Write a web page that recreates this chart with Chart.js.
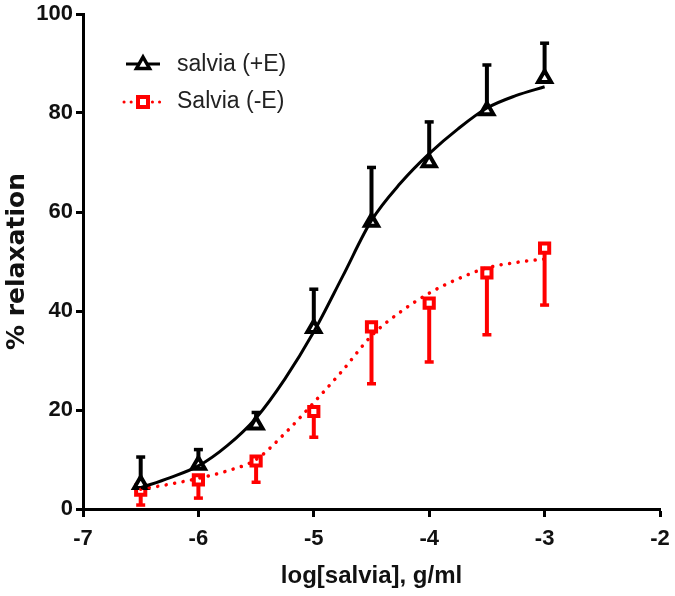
<!DOCTYPE html>
<html>
<head>
<meta charset="utf-8">
<script src="https://cdn.jsdelivr.net/npm/chart.js@4/dist/chart.umd.min.js"></script>
<style>
  html, body { margin: 0; padding: 0; background: #fff; }
  #wrap { width: 675px; height: 596px; }
</style>
</head>
<body>
<div id="wrap"><canvas id="chart"></canvas></div>
<script>
// 数据点（对数浓度）
const doses = [-6.5, -6, -5.5, -5, -4.5, -4, -3.5, -3];
const withEMean = [5, 8.9, 17, 36.5, 58, 70, 80.5, 87];
const withEErr = [5.5, 3.1, 2.5, 7.9, 11, 8.2, 9.2, 7.1];
const withoutEMean = [3.8, 5.9, 9.7, 19.7, 36.8, 41.6, 47.7, 52.7];
const withoutEErr = [3, 3.7, 4.3, 5.2, 11.5, 11.9, 12.5, 11.5];

// 拟合曲线
const fitX = [-6.5, -6.25, -6, -5.75, -5.5, -5.25, -5, -4.75, -4.5, -4.25, -4, -3.75, -3.5, -3.25, -3];
const withEFit = [4.3, 6.3, 8.7, 12.8, 18.4, 26.3, 35.8, 47, 58.3, 65.8, 71.8, 76.8, 81, 83.5, 85.3];
const withoutEFit = [4, 5, 6.2, 7.7, 10, 15.3, 21.5, 28, 35, 39.8, 43.6, 46.5, 48.7, 49.8, 50.5];

const xTicks = [-7, -6, -5, -4, -3, -2];
const yTicks = [0, 20, 40, 60, 80, 100];
const legendLabels = ['salvia (+E)', 'Salvia (-E)'];

const toPoints = (xs, ys) => xs.map((x, i) => ({ x: x, y: ys[i] }));

// 误差线插件
const errorBars = {
    id: 'errorBars',
    beforeDatasetsDraw(chart) {
        const ctx = chart.ctx;
        const xs = chart.scales.x, ys = chart.scales.y;
        const sets = [
            { mean: withEMean, err: withEErr, dir: 1, color: '#000' },
            { mean: withoutEMean, err: withoutEErr, dir: -1, color: '#ff0000' }
        ];
        ctx.save();
        sets.forEach(s => {
            ctx.strokeStyle = s.color;
            doses.forEach((d, i) => {
                const px = xs.getPixelForValue(d);
                const y0 = ys.getPixelForValue(s.mean[i]);
                const y1 = ys.getPixelForValue(s.mean[i] + s.dir * s.err[i]);
                ctx.lineWidth = 4;
                ctx.beginPath();
                ctx.moveTo(px, y0);
                ctx.lineTo(px, y1);
                ctx.stroke();
                ctx.lineWidth = 3.5;
                ctx.beginPath();
                ctx.moveTo(px - 4.5, y1);
                ctx.lineTo(px + 4.5, y1);
                ctx.stroke();
            });
        });
        ctx.restore();
    }
};

// 图例插件（图内左上）
const insideLegend = {
    id: 'insideLegend',
    afterDraw(chart) {
        const ctx = chart.ctx;
        ctx.save();
        // 黑色实线 + 三角形
        ctx.strokeStyle = '#000';
        ctx.lineWidth = 3;
        ctx.beginPath();
        ctx.moveTo(126, 64);
        ctx.lineTo(160, 64);
        ctx.stroke();
        ctx.fillStyle = '#fff';
        ctx.lineWidth = 3.5;
        ctx.beginPath();
        ctx.moveTo(143, 57);
        ctx.lineTo(149.5, 68.5);
        ctx.lineTo(136.5, 68.5);
        ctx.closePath();
        ctx.fill();
        ctx.stroke();
        // 红色点线 + 方块
        ctx.strokeStyle = '#ff0000';
        ctx.lineCap = 'round';
        ctx.setLineDash([0.1, 7]);
        ctx.lineWidth = 3;
        ctx.beginPath();
        ctx.moveTo(124, 102);
        ctx.lineTo(162, 102);
        ctx.stroke();
        ctx.setLineDash([]);
        ctx.lineCap = 'butt';
        ctx.lineWidth = 4;
        ctx.fillStyle = '#fff';
        ctx.fillRect(138, 97, 10, 10);
        ctx.strokeRect(138, 97, 10, 10);
        // 文字
        ctx.fillStyle = '#222';
        ctx.font = '23px "Liberation Sans", Arial, sans-serif';
        ctx.textBaseline = 'middle';
        ctx.fillText(legendLabels[0], 177, 65);
        ctx.fillText(legendLabels[1], 177, 102);
        ctx.restore();
    }
};

const tickFont = { family: '"Liberation Sans", Arial, sans-serif', size: 22, weight: 'bold' };

new Chart(document.getElementById('chart'), {
    type: 'scatter',
    data: {
        datasets: [
            {
                type: 'line',
                data: toPoints(fitX, withEFit),
                borderColor: '#000',
                borderWidth: 3,
                pointRadius: 0,
                cubicInterpolationMode: 'monotone',
                fill: false
            },
            {
                type: 'line',
                data: toPoints(fitX, withoutEFit),
                borderColor: '#ff0000',
                borderWidth: 3.5,
                borderDash: [0.1, 8.5],
                borderCapStyle: 'round',
                pointRadius: 0,
                cubicInterpolationMode: 'monotone',
                fill: false
            },
            {
                label: legendLabels[0],
                data: toPoints(doses, withEMean),
                pointStyle: 'triangle',
                pointRadius: 7.5,
                borderWidth: 4,
                borderColor: '#000',
                backgroundColor: '#fff'
            },
            {
                label: legendLabels[1],
                data: toPoints(doses, withoutEMean),
                pointStyle: 'rect',
                pointRadius: 6.5,
                borderWidth: 4,
                borderColor: '#ff0000',
                backgroundColor: '#fff'
            }
        ]
    },
    options: {
        responsive: true,
        maintainAspectRatio: false,
        animation: false,
        layout: { padding: { top: 14, right: 15, left: 0, bottom: 0 } },
        plugins: {
            legend: { display: false },
            tooltip: { enabled: false }
        },
        scales: {
            x: {
                type: 'linear',
                min: -7,
                max: -2,
                afterBuildTicks: (s) => { s.ticks = xTicks.map(v => ({ value: v })); },
                afterFit: (s) => { s.height = 87; s.paddingLeft = 0; s.paddingRight = 0; },
                border: { display: true, color: '#000', width: 3 },
                grid: { drawOnChartArea: false, drawTicks: true, tickLength: 8, tickWidth: 3, tickColor: '#000' },
                ticks: { color: '#111', font: tickFont, padding: 9, maxRotation: 0 },
                title: {
                    display: true,
                    text: 'log[salvia], g/ml',
                    color: '#111',
                    font: { family: tickFont.family, size: 24, weight: 'bold' },
                    padding: { top: 0, bottom: 5 }
                }
            },
            y: {
                type: 'linear',
                min: 0,
                max: 100,
                afterBuildTicks: (s) => { s.ticks = yTicks.map(v => ({ value: v })); },
                afterFit: (s) => { s.width = 83; s.paddingTop = 0; s.paddingBottom = 0; },
                border: { display: true, color: '#000', width: 3 },
                grid: { drawOnChartArea: false, drawTicks: true, tickLength: 7, tickWidth: 3, tickColor: '#000' },
                ticks: { color: '#111', font: tickFont, padding: 3 },
                title: {
                    display: true,
                    text: '% relaxation',
                    color: '#111',
                    font: { family: '"DejaVu Sans", sans-serif', size: 25, weight: 'bold' },
                    padding: { top: 2, bottom: 0 }
                }
            }
        }
    },
    plugins: [errorBars, insideLegend]
});
</script>
</body>
</html>
